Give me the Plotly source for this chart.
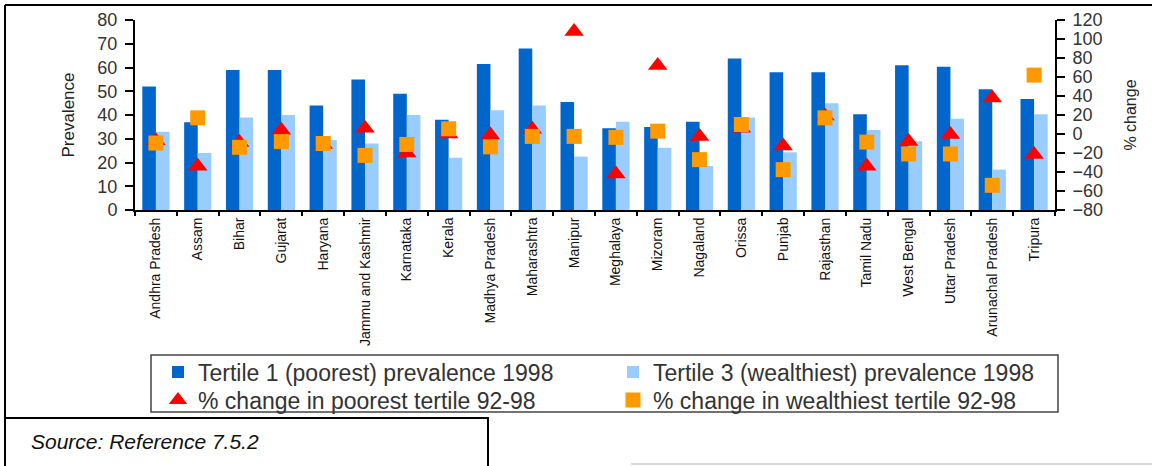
import numpy as np
import plotly.graph_objects as go

states = ["Andhra Pradesh", "Assam", "Bihar", "Gujarat", "Haryana", "Jammu and Kashmir",
          "Karnataka", "Kerala", "Madhya Pradesh", "Maharashtra", "Manipur", "Meghalaya",
          "Mizoram", "Nagaland", "Orissa", "Punjab", "Rajasthan", "Tamil Nadu",
          "West Bengal", "Uttar Pradesh", "Arunachal Pradesh", "Tripura"]

poorest_prev_1998 = [52, 37, 59, 59, 44, 55, 49, 38, 61.5, 68, 45.5, 34.4, 35, 37.2,
                     63.8, 58, 58, 40.3, 61, 60.3, 50.8, 46.7]
wealthiest_prev_1998 = [33, 24, 39, 40, 29.5, 28, 40, 22, 42, 44, 22.5, 37.2, 26.2, 18.5,
                        39, 24.3, 45, 33.7, 29, 38.4, 17, 40.3]
pct_change_poorest = [-7, -34, -9, 4, -11, 6, -20, 0, -1, 5, 108, -42, 72, -2.5,
                      6, -12.5, 19, -34, -8, -0.5, 38, -21.5]
pct_change_wealthiest = [-9.5, 17, -14, -8, -10, -22.5, -11, 5.5, -13.5, -2.5, -2.5, -3.5,
                         3, -27, 10, -37.5, 17, -8.5, -21, -21, -54, 62]

left_range = [0, 80]
right_range = [-80, 120]

FONT = "Liberation Sans, Arial, sans-serif"
W, H = 1152, 466
X0, X1, YB, YT = 135, 1055, 210, 20


def px_x(x):
    return (x - X0) / (X1 - X0)


def px_y(y):
    return (YB - y) / (YB - YT)


fig = go.Figure()
fig.add_trace(go.Bar(x=states, y=poorest_prev_1998, name="Tertile 1 (poorest) prevalence 1998",
                     marker=dict(color="#0066CC", line=dict(width=0)), legend="legend"))
fig.add_trace(go.Bar(x=states, y=wealthiest_prev_1998, name="Tertile 3 (wealthiest) prevalence 1998",
                     marker=dict(color="#99CCFF", line=dict(width=0)), legend="legend"))
fig.add_trace(go.Scatter(x=states, y=pct_change_poorest, yaxis="y2", mode="markers",
                         name="% change in poorest tertile 92-98",
                         marker=dict(symbol="triangle-up", size=17, color="#FF0000"),
                         legend="legend2"))
fig.add_trace(go.Scatter(x=states, y=pct_change_wealthiest, yaxis="y2", mode="markers",
                         name="% change in wealthiest tertile 92-98",
                         marker=dict(symbol="square", size=15, color="#FF9900"),
                         legend="legend2"))

n = len(states)
x_range = [-0.5, n - 0.5]
boundaries = list(np.arange(-0.5, n, 1.0))

legend_common = dict(orientation="h", xanchor="left", yanchor="middle",
                     entrywidth=410, entrywidthmode="pixels",
                     font=dict(family=FONT, size=23, color="#333333"),
                     bgcolor="rgba(0,0,0,0)", borderwidth=0, traceorder="normal")

fig.update_layout(
    width=W, height=H,
    margin=dict(l=X0, r=W - X1, t=YT, b=H - YB, autoexpand=False),
    paper_bgcolor="white", plot_bgcolor="white",
    barmode="group", bargap=0.35, bargroupgap=0,
    font=dict(family=FONT, color="#333333"),
    xaxis=dict(type="category", range=x_range, tickangle=-90, tickson="boundaries",
               ticks="outside", ticklen=4, tickwidth=1.5, tickcolor="black", showline=True,
               linecolor="black", linewidth=2, showgrid=False, zeroline=False,
               tickfont=dict(family=FONT, size=14, color="#111111")),
    xaxis2=dict(overlaying="x", anchor="y", side="bottom", range=x_range,
                tickmode="array", tickvals=boundaries, ticks="inside", ticklen=4,
                tickwidth=1.5, tickcolor="black", showticklabels=False, showgrid=False,
                zeroline=False, showline=False),
    yaxis=dict(range=left_range, dtick=10, ticks="outside", ticklen=8, tickwidth=1.5,
               tickcolor="black", showline=True, linecolor="black", linewidth=2,
               showgrid=False, zeroline=False, ticklabelstandoff=4,
               tickfont=dict(family=FONT, size=18, color="#333333"),
               title=dict(text="Prevalence", standoff=18,
                          font=dict(family=FONT, size=17, color="#222222"))),
    yaxis2=dict(range=right_range, dtick=20, overlaying="y", side="right", anchor="x",
                ticks="outside", ticklen=8, tickwidth=1.5, tickcolor="black",
                showline=True, linecolor="black", linewidth=2, showgrid=False,
                zeroline=False, ticklabelstandoff=4,
                tickfont=dict(family=FONT, size=18, color="#333333"),
                title=dict(text="% change", standoff=23,
                           font=dict(family=FONT, size=16, color="#222222"))),
    yaxis3=dict(range=left_range, dtick=10, overlaying="y", side="left", anchor="x",
                ticks="inside", ticklen=8, tickwidth=1.5, tickcolor="black",
                showticklabels=False, showgrid=False, zeroline=False, showline=False),
    yaxis4=dict(range=right_range, dtick=20, overlaying="y", side="right", anchor="x",
                ticks="inside", ticklen=8, tickwidth=1.5, tickcolor="black",
                showticklabels=False, showgrid=False, zeroline=False, showline=False),
    legend=dict(x=px_x(158), y=px_y(372), **legend_common),
    legend2=dict(x=px_x(158), y=px_y(400), **legend_common),
)

shape_style = dict(xref="paper", yref="paper")
fig.add_shape(type="line", x0=px_x(5), x1=px_x(1152), y0=px_y(5), y1=px_y(5),
              line=dict(color="black", width=2), **shape_style)
fig.add_shape(type="line", x0=px_x(5), x1=px_x(5), y0=px_y(5), y1=px_y(470),
              line=dict(color="black", width=2), **shape_style)
fig.add_shape(type="rect", x0=px_x(151), x1=px_x(1058), y0=px_y(355), y1=px_y(412),
              line=dict(color="#444444", width=1.5), **shape_style)
fig.add_shape(type="rect", x0=px_x(5), x1=px_x(488), y0=px_y(418), y1=px_y(470),
              line=dict(color="black", width=2), **shape_style)
fig.add_shape(type="line", x0=px_x(631), x1=px_x(1152), y0=px_y(464), y1=px_y(464),
              line=dict(color="#d8d8d8", width=2), **shape_style)

fig.add_annotation(text="<i>Source: Reference 7.5.2</i>", xref="paper", yref="paper",
                   x=px_x(29), y=px_y(441), xanchor="left", yanchor="middle", showarrow=False,
                   font=dict(family=FONT, size=21, color="#111111"))

fig.write_html("out.html", config={"displayModeBar": False},
               post_script="document.body.style.margin='0px';")
